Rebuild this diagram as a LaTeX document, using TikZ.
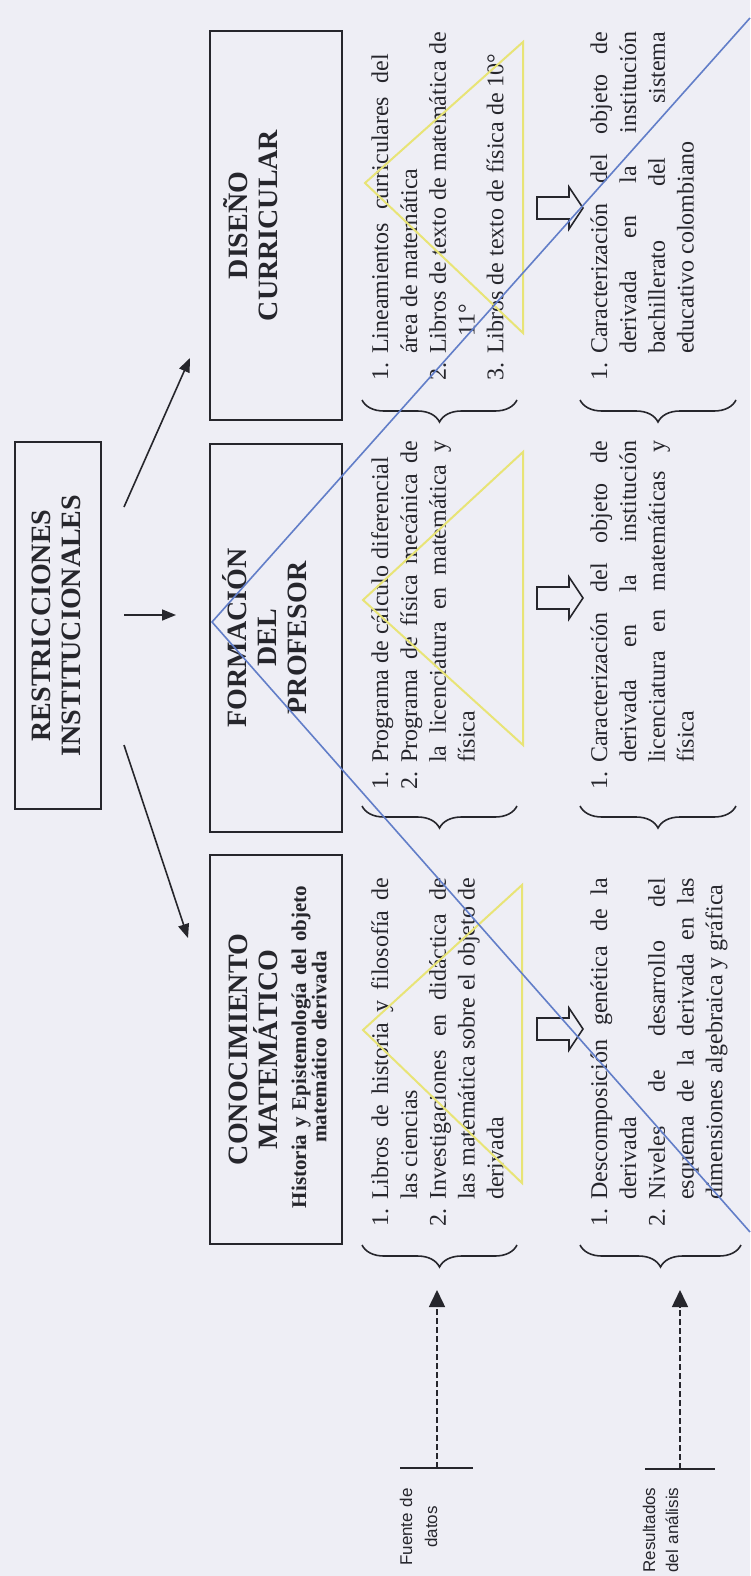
\documentclass[tikz,border=0pt]{standalone}
\usepackage{fontspec}
\setmainfont{Liberation Serif}
\newfontfamily\lsans{Liberation Sans}
\usetikzlibrary{arrows.meta,decorations.pathreplacing}
\definecolor{bg}{RGB}{238,238,245}
\definecolor{ink}{RGB}{38,38,44}
\definecolor{ylw}{RGB}{232,228,118}
\definecolor{blu}{RGB}{98,126,200}
\newcommand\nm[1]{\makebox[27pt][l]{#1}}
\newcommand\myeol{\hfill\break}
\tikzset{
  box/.style={draw=ink, line width=2pt, inner sep=0pt},
  head/.style={rotate=90, anchor=north, inner sep=0pt, text=ink, text width=380pt, align=center, font=\fontsize{28}{30}\selectfont\bfseries},
  subhead/.style={rotate=90, anchor=north, inner sep=0pt, text=ink, text width=380pt, align=center, font=\fontsize{21}{19}\selectfont\bfseries},
  listbox/.style={rotate=90, anchor=north west, inner sep=0pt, text=ink, text width=349pt, align=justify, font=\fontsize{24}{28.8}\selectfont},
  lab/.style={rotate=90, anchor=north, inner sep=0pt, text=ink, text width=120pt, align=center},
  conn/.style={draw=ink, line width=1.6pt, -{Triangle[length=14pt,width=11pt]}},
  dconn/.style={draw=ink, line width=1.6pt, dash pattern=on 6pt off 3pt, -{Triangle[length=17pt,width=16pt]}},
  brc/.style={draw=ink, line width=1.6pt, decorate, decoration={brace, amplitude=22pt}},
  baseln/.style={draw=ink, line width=1.6pt},
  hollow/.style={draw=ink, line width=1.6pt, fill=bg},
  barrow/.pic={\draw[hollow] (0,-11) -- (32,-11) -- (32,-21) -- (46,0) -- (32,21) -- (32,11) -- (0,11) -- cycle;},
  ytri/.style={draw=ylw, line width=2pt, line join=miter},
  bline/.style={draw=blu, line width=1.6pt}
}
\begin{document}
\begin{tikzpicture}[x=1pt,y=-1pt]
\fill[bg] (0,0) rectangle (750,1576);
\useasboundingbox (0,0) rectangle (750,1576);

% boxes
\node[box, minimum width=86pt, minimum height=367pt] (restr) at (58,625.5) {};
\node[box, minimum width=132pt, minimum height=389pt] (dis) at (276,225.5) {};
\node[box, minimum width=132pt, minimum height=388pt] (form) at (276,638) {};
\node[box, minimum width=132pt, minimum height=389pt] (conoc) at (276,1049.5) {};

% headings
\node[head] (trestr) at (24,625.5) {\rule{0pt}{26pt}RESTRICCIONES\\INSTITUCIONALES};
\node[head] (tdis) at (221,225.5) {\rule{0pt}{26pt}DISEÑO\\CURRICULAR};
\node[head] (tform) at (220,638) {\rule{0pt}{26pt}FORMACIÓN\\DEL\\PROFESOR};
\node[head] (tcon) at (221,1049.5) {\rule{0pt}{26pt}CONOCIMIENTO\\MATEMÁTICO};
\node[subhead] (tsub) at (289,1047) {\rule{0pt}{17pt}Historia y Epistemología del objeto\\matemático derivada};

% arrows from restricciones
\coordinate (a1s) at (124,507); \coordinate (a1e) at (190,358);
\coordinate (a2s) at (124,615); \coordinate (a2e) at (176,615);
\coordinate (a3s) at (124,745); \coordinate (a3e) at (188,938);
\draw[conn] (a1s) -- (a1e);
\draw[conn] (a2s) -- (a2e);
\draw[conn] (a3s) -- (a3e);

% lists: fuente de datos
\node[listbox] (c1f) at (370,1227) {\parshape 5 0pt 349pt 27pt 322pt 0pt 349pt 27pt 322pt 27pt 322pt
\rule{0pt}{18pt}\nm{1.}Libros de historia y filosofía de\linebreak
las ciencias\myeol
\nm{2.}Investigaciones en didáctica de\linebreak
las matemática sobre el objeto de\linebreak
derivada\par};
\node[listbox] (c2f) at (370,790) {\parshape 4 0pt 349pt 0pt 349pt 27pt 322pt 27pt 322pt
\rule{0pt}{18pt}\nm{1.}Programa de cálculo diferencial\myeol
\nm{2.}Programa de física mecánica de\linebreak
la licenciatura en matemática y\linebreak
física\par};
\node[listbox] (c3f) at (370,381) {\parshape 5 0pt 349pt 27pt 322pt 0pt 349pt 27pt 322pt 0pt 349pt
\rule{0pt}{18pt}\nm{1.}Lineamientos\hspace{0.3em} curriculares\hspace{0.3em} del\myeol
área de matemática\myeol
\nm{2.}Libros de texto de matemática de\linebreak
\hspace*{17pt}11°\myeol
\nm{3.}Libros de texto de física de 10°\par};

% lists: resultados
\node[listbox] (c1r) at (589,1227) {\parshape 5 0pt 349pt 27pt 322pt 0pt 349pt 27pt 322pt 27pt 322pt
\rule{0pt}{18pt}\nm{1.}Descomposición genética de la\linebreak
derivada\myeol
\nm{2.}Niveles de desarrollo del\linebreak
esquema de la derivada en las\linebreak
dimensiones algebraica y gráfica\par};
\node[listbox] (c2r) at (589,790) {\parshape 4 0pt 349pt 27pt 322pt 27pt 322pt 27pt 322pt
\rule{0pt}{18pt}\nm{1.}Caracterización del objeto de\linebreak
derivada en la institución\linebreak
licenciatura en matemáticas y\linebreak
física\par};
\node[listbox] (c3r) at (589,381) {\parshape 4 0pt 349pt 27pt 322pt 27pt 322pt 27pt 322pt
\rule{0pt}{18pt}\nm{1.}Caracterización del objeto de\linebreak
derivada en la institución\linebreak
bachillerato del sistema\linebreak
educativo colombiano\par};

% braces
\draw[brc] (517,1245) -- (362,1245);
\draw[brc] (741,1245) -- (580,1245);
\draw[brc] (517,806) -- (362,806);
\draw[brc] (736,806) -- (580,806);
\draw[brc] (517,400) -- (362,400);
\draw[brc] (736,400) -- (580,400);

% hollow block arrows
\pic (b1) at (537,1029) {barrow};
\pic (b2) at (537,598) {barrow};
\pic (b3) at (537,208) {barrow};

% dashed arrows and labels
\coordinate (fb) at (437,1468); \coordinate (ft) at (437,1290);
\coordinate (rb) at (680,1469); \coordinate (rt) at (680,1290);
\draw[dconn] (fb) -- (ft);
\draw[dconn] (rb) -- (rt);
\draw[baseln] (400,1468) -- (473,1468);
\draw[baseln] (645,1469) -- (715,1469);
\node[lab, font=\lsans\fontsize{17}{25}\selectfont] (lfuente) at (398,1527) {\rule{0pt}{14pt}Fuente de\\datos};
\node[lab, font=\lsans\fontsize{17}{23}\selectfont] (lres) at (641,1530) {\rule{0pt}{14pt}Resultados\\del análisis};

% overlays
\draw[ytri] (363,1030) -- (522,885) -- (522,1183) -- cycle;
\draw[ytri] (363,600) -- (523,452) -- (523,745) -- cycle;
\draw[ytri] (365,183) -- (523,42) -- (523,333) -- cycle;
\draw[bline] (750,18) -- (212,622) -- (750,1232);
\end{tikzpicture}
\end{document}
